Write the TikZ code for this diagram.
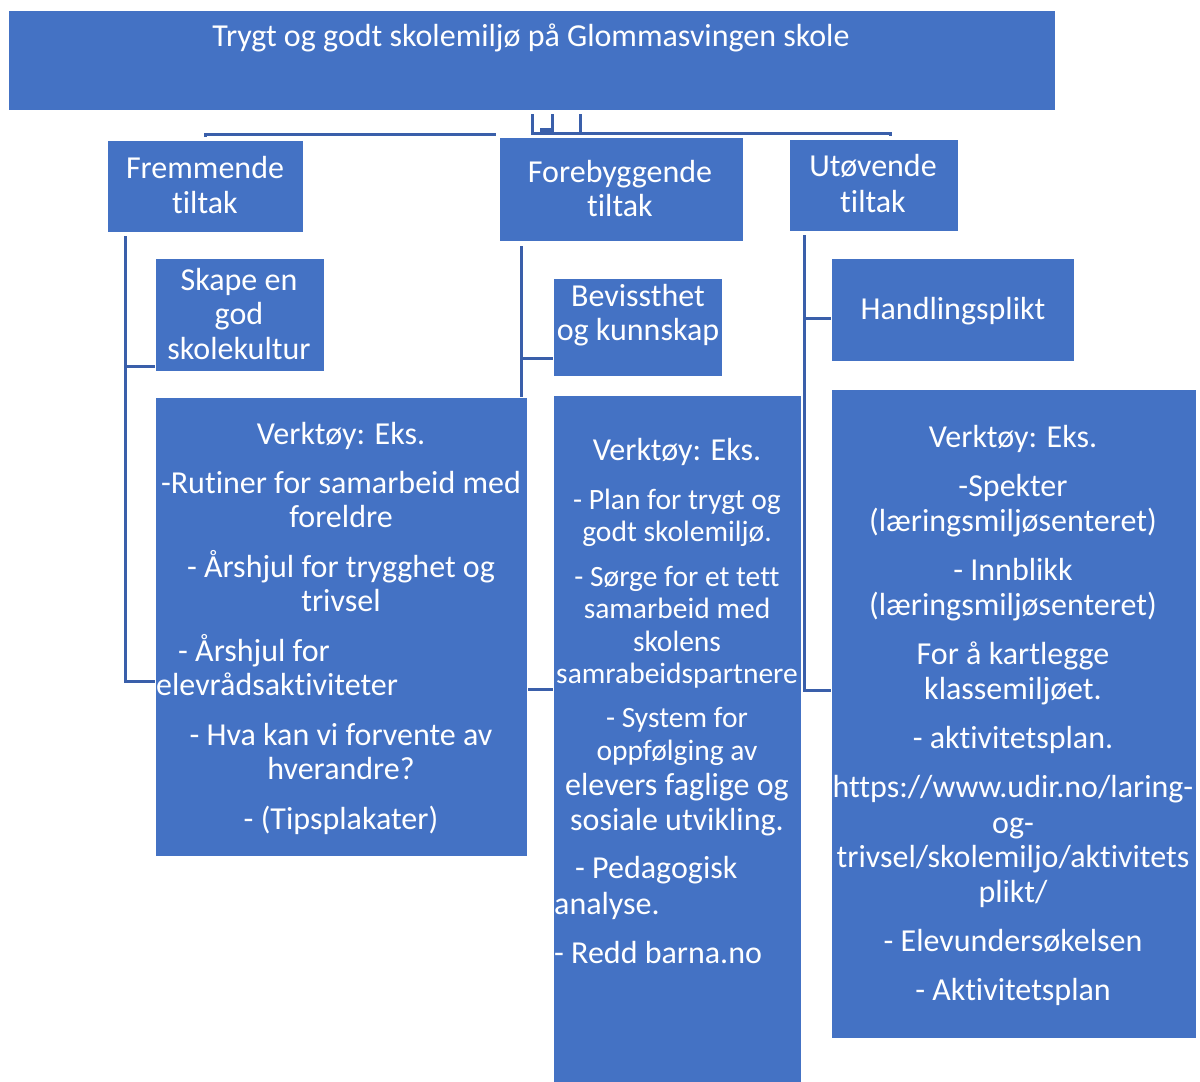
\documentclass[tikz,border=0pt]{standalone}
\usepackage{fontspec}
\setmainfont{Carlito}[RawFeature={-liga;-calt;-clig;-dlig}]
\usetikzlibrary{calc}
\definecolor{boxblue}{HTML}{4472C4}
\definecolor{lineblue}{HTML}{3A5FAA}
\begin{document}
\begin{tikzpicture}[x=1pt,y=-1pt,
  box/.style={draw=white, line width=1pt, fill=boxblue, anchor=north west, inner sep=0pt},
  conn/.style={draw=lineblue, line width=3pt},
  tx/.style={text=white, font=\fontsize{32}{38}\selectfont, inner sep=0pt, anchor=base, yshift=-10pt},
  txs/.style={text=white, font=\fontsize{29.5}{35}\selectfont, inner sep=0pt, anchor=base, yshift=-9.5pt},
  txl/.style={tx, anchor=base west},
]
\useasboundingbox (0,0) rectangle (1200,1082);
% boxes (shapes only)
\node[box, minimum width=1047pt, minimum height=100pt] (top) at (8,10) {};
\node[box, minimum width=196pt, minimum height=92pt] (frem) at (107,140) {};
\node[box, minimum width=244pt, minimum height=104pt] (fore) at (499,137) {};
\node[box, minimum width=169pt, minimum height=92pt] (utov) at (789,139) {};

% connectors
\draw[conn] (top.south west) ++(524,3) -- ++(0,19) -- ++(358,0) -- ++(0,3);
\draw[conn] (top.south west) ++(544,3) -- ++(0,19);
\draw[conn] (top.south west) ++(572,3) -- ++(0,20);
\draw[conn, line width=4pt] (top.south west) ++(532,19) -- ++(12,0);
\draw[conn] (frem.north) ++(0,-3) -- ++(0,-3) -- ++(290,0);

\node[box, minimum width=169pt, minimum height=113pt] (skape) at (155,258) {};
\node[box, minimum width=169pt, minimum height=98pt] (bev) at (553,278) {};
\node[box, minimum width=243pt, minimum height=103pt] (hand) at (831,258) {};

\coordinate (lv) at ($(frem.south west)+(18,3)$);
\coordinate (mv) at ($(fore.south west)+(22,4)$);
\coordinate (rv) at ($(utov.south west)+(15,3)$);
\draw[conn] (lv) |- ($(skape.south west)+(0,-6)$);
\draw[conn] (lv) |- (155,681);
\draw[conn] (mv) |- ($(bev.south west)+(0,-19)$);
\draw[conn] (mv) |- (553,689);
\draw[conn] (rv) |- ($(hand.north west)+(0,60)$);
\draw[conn] (rv) |- (831,690);

\node[box, minimum width=372pt, minimum height=459pt] (v1) at (155,397) {};
\node[box, minimum width=248pt, minimum height=690pt] (v2) at (553,395) {};
\node[box, minimum width=365pt, minimum height=649pt] (v3) at (831,389) {};

% texts
\node[tx] (t0) at (531,36) {Trygt og godt skolemiljø på Glommasvingen skole};
\node[tx] (f1) at (205,168) {Fremmende};
\node[tx] (f2) at (205,203) {tiltak};
\node[tx] (g1) at (620,172) {Forebyggende};
\node[tx] (g2) at (620,206) {tiltak};
\node[tx] (u1) at (873,166) {Utøvende};
\node[tx] (u2) at (873,202) {tiltak};
\node[tx] (s1) at (239,280) {Skape en};
\node[tx] (s2) at (239,314) {god};
\node[tx] (s3) at (239,349) {skolekultur};
\node[tx] (k1) at (638,296) {Bevissthet};
\node[tx] (k2) at (638,330) {og kunnskap};
\node[tx] (h1) at (953,309) {Handlingsplikt};

% box 1
\node[tx] (a1) at (341,434) {Verktøy: Eks.};
\node[tx] (a2) at (341,483) {-Rutiner for samarbeid med};
\node[tx] (a3) at (341,517) {foreldre};
\node[tx] (a4) at (341,567) {- Årshjul for trygghet og};
\node[tx] (a5) at (341,601) {trivsel};
\node[txl] (a6) at (178,651) {- Årshjul for};
\node[txl] (a7) at (156,685) {elevrådsaktiviteter};
\node[tx] (a8) at (341,735) {- Hva kan vi forvente av};
\node[tx] (a9) at (341,769) {hverandre?};
\node[tx] (a10) at (341,819) {- (Tipsplakater)};

% box 2
\node[tx] (b1) at (677,450) {Verktøy: Eks.};
\node[txs] (b2) at (677,500) {- Plan for trygt og};
\node[txs] (b3) at (677,532) {godt skolemiljø.};
\node[txs] (b4) at (677,577) {- Sørge for et tett};
\node[txs] (b5) at (677,609) {samarbeid med};
\node[txs] (b6) at (677,642) {skolens};
\node[txs] (b7) at (677,674) {samrabeidspartnere};
\node[txs] (b8) at (677,718) {- System for};
\node[txs] (b9) at (677,751) {oppfølging av};
\node[tx] (b10) at (677,785) {elevers faglige og};
\node[tx] (b11) at (677,820) {sosiale utvikling.};
\node[txl] (b12) at (575,868) {- Pedagogisk};
\node[txl] (b13) at (554,904) {analyse.};
\node[txl] (b14) at (554,953) {- Redd barna.no};

% box 3
\node[tx] (c1) at (1013,437) {Verktøy: Eks.};
\node[tx] (c2) at (1013,486) {-Spekter};
\node[tx] (c3) at (1013,521) {(læringsmiljøsenteret)};
\node[tx] (c4) at (1013,570) {- Innblikk};
\node[tx] (c5) at (1013,605) {(læringsmiljøsenteret)};
\node[tx] (c6) at (1013,654) {For å kartlegge};
\node[tx] (c7) at (1013,689) {klassemiljøet.};
\node[tx] (c8) at (1013,738) {- aktivitetsplan.};
\node[tx] (c9) at (1013,787) {https://www.udir.no/laring-};
\node[tx] (c10) at (1013,823) {og-};
\node[tx] (c11) at (1013,857) {trivsel/skolemiljo/aktivitets};
\node[tx] (c12) at (1013,892) {plikt/};
\node[tx] (c13) at (1013,941) {- Elevundersøkelsen};
\node[tx] (c14) at (1013,990) {- Aktivitetsplan};
\end{tikzpicture}
\end{document}
